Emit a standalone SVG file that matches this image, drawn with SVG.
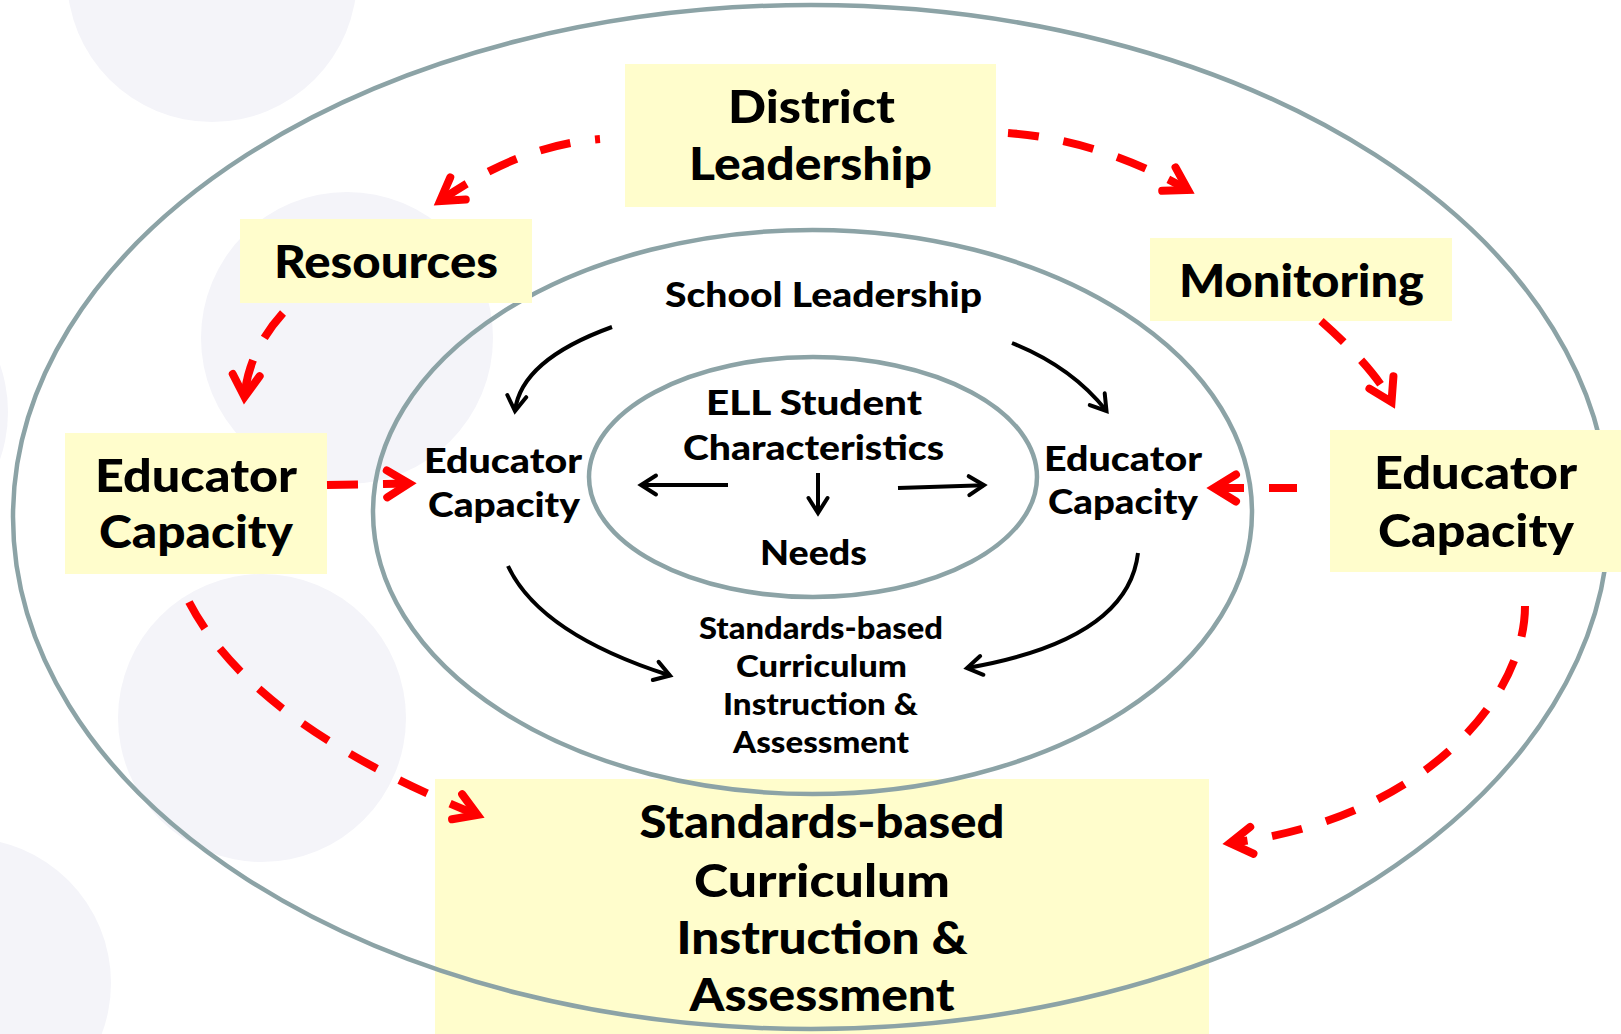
<svg xmlns="http://www.w3.org/2000/svg" width="1621" height="1034" viewBox="0 0 1621 1034">
  <style>
    .bg { fill: #f4f4f9; }
    .ring { fill: none; stroke: #8ca3a6; stroke-width: 4.5; }
    .box { fill: #fffdcc; }
    .t { font-family: Lato, "Open Sans", "DejaVu Sans", sans-serif; font-weight: 900; fill: #000; text-anchor: middle; }
    .big { font-size: 46px; }
    .mid { font-size: 34px; }
    .sm { font-size: 30px; }
    .red { fill: none; stroke: #ff0000; stroke-width: 8; stroke-dasharray: 31 25; marker-end: url(#redHead); }
    .blk { fill: none; stroke: #000; stroke-width: 4; marker-end: url(#blkHead); }
  </style>
  <defs>
    <marker id="redHead" markerUnits="userSpaceOnUse" orient="auto" refX="0" refY="0" markerWidth="40" markerHeight="40" viewBox="-30 -20 40 40" overflow="visible">
      <path d="M -22,-13.5 L 0,0 L -22,13.5" fill="none" stroke="#ff0000" stroke-width="8" stroke-linecap="round" stroke-linejoin="miter"/>
    </marker>
    <marker id="blkHead" markerUnits="userSpaceOnUse" orient="auto" refX="0" refY="0" markerWidth="30" markerHeight="30" viewBox="-20 -15 30 30" overflow="visible">
      <path d="M -15,-9.5 L 0,0 L -15,9.5" fill="none" stroke="#000" stroke-width="4" stroke-linecap="round" stroke-linejoin="miter"/>
    </marker>
  </defs>

  <rect width="1621" height="1034" fill="#ffffff"/>

  <!-- faint decorative discs -->
  <g id="backdrop">
    <circle class="bg" cx="212" cy="-23" r="145"/>
    <circle class="bg" cx="347" cy="338" r="146"/>
    <circle class="bg" cx="262" cy="718" r="144"/>
    <circle class="bg" cx="-34" cy="983" r="145"/>
    <circle class="bg" cx="-137" cy="412" r="145"/>
  </g>

  <!-- outcome box sits beneath the rings -->
  <g id="node-sbc-outer">
    <rect class="box" x="435" y="779" width="774" height="255"/>
    <text class="t big" x="822" y="838" textLength="365" lengthAdjust="spacingAndGlyphs">Standards-based</text>
    <text class="t big" x="822" y="897" textLength="256" lengthAdjust="spacingAndGlyphs">Curriculum</text>
    <text class="t big" x="822" y="954" textLength="291" lengthAdjust="spacingAndGlyphs">Instruction &amp;</text>
    <text class="t big" x="822" y="1011" textLength="265" lengthAdjust="spacingAndGlyphs">Assessment</text>
  </g>

  <!-- concentric rings -->
  <g id="rings">
    <ellipse class="ring" cx="811" cy="517" rx="798" ry="512"/>
    <ellipse class="ring" cx="812.5" cy="512" rx="439.5" ry="282"/>
    <ellipse class="ring" cx="813" cy="477" rx="224" ry="120"/>
  </g>

  <g id="node-district">
    <rect class="box" x="625" y="64" width="371" height="143"/>
    <text class="t big" x="811.5" y="123" textLength="167" lengthAdjust="spacingAndGlyphs">District</text>
    <text class="t big" x="810.5" y="180" textLength="243" lengthAdjust="spacingAndGlyphs">Leadership</text>
  </g>

  <g id="node-resources">
    <rect class="box" x="240" y="219" width="292" height="84"/>
    <text class="t big" x="386" y="278" textLength="224" lengthAdjust="spacingAndGlyphs">Resources</text>
  </g>

  <g id="node-monitoring">
    <rect class="box" x="1150" y="238" width="302" height="83"/>
    <text class="t big" x="1301.5" y="297" textLength="245" lengthAdjust="spacingAndGlyphs">Monitoring</text>
  </g>

  <g id="node-educator-left">
    <rect class="box" x="65" y="433" width="262" height="141"/>
    <text class="t big" x="196" y="492" textLength="202" lengthAdjust="spacingAndGlyphs">Educator</text>
    <text class="t big" x="196" y="548" textLength="194" lengthAdjust="spacingAndGlyphs">Capacity</text>
  </g>

  <g id="node-educator-right">
    <rect class="box" x="1330" y="430" width="291" height="142"/>
    <text class="t big" x="1475.5" y="489" textLength="203" lengthAdjust="spacingAndGlyphs">Educator</text>
    <text class="t big" x="1476" y="547" textLength="196" lengthAdjust="spacingAndGlyphs">Capacity</text>
  </g>

  <g id="node-school-leadership">
    <text class="t mid" x="823.5" y="307" textLength="317" lengthAdjust="spacingAndGlyphs">School Leadership</text>
  </g>

  <g id="node-educator-inner-left">
    <text class="t mid" x="503" y="473" textLength="158" lengthAdjust="spacingAndGlyphs">Educator</text>
    <text class="t mid" x="504" y="517" textLength="152" lengthAdjust="spacingAndGlyphs">Capacity</text>
  </g>

  <g id="node-educator-inner-right">
    <text class="t mid" x="1123" y="471" textLength="158" lengthAdjust="spacingAndGlyphs">Educator</text>
    <text class="t mid" x="1123" y="514" textLength="150" lengthAdjust="spacingAndGlyphs">Capacity</text>
  </g>

  <g id="node-ell">
    <text class="t mid" x="814" y="415" textLength="216" lengthAdjust="spacingAndGlyphs">ELL Student</text>
    <text class="t mid" x="813.5" y="460" textLength="261" lengthAdjust="spacingAndGlyphs">Characteristics</text>
  </g>

  <g id="node-needs">
    <text class="t mid" x="813.5" y="565" textLength="107" lengthAdjust="spacingAndGlyphs">Needs</text>
  </g>

  <g id="node-sbc-inner">
    <text class="t sm" x="821" y="639" textLength="244" lengthAdjust="spacingAndGlyphs">Standards-based</text>
    <text class="t sm" x="821.5" y="677" textLength="171" lengthAdjust="spacingAndGlyphs">Curriculum</text>
    <text class="t sm" x="820.5" y="715" textLength="195" lengthAdjust="spacingAndGlyphs">Instruction &amp;</text>
    <text class="t sm" x="821" y="753" textLength="176" lengthAdjust="spacingAndGlyphs">Assessment</text>
  </g>

  <g id="connectors">
    <!-- district-level flows (dashed red) -->
    <path class="red" d="M 600 139 Q 520 145 440 201" stroke-dashoffset="26"/>
    <path class="red" d="M 1008 133 Q 1100 140 1188 190"/>
    <path class="red" d="M 283 313 Q 248 352 244.5 397"/>
    <path class="red" d="M 1321 321 Q 1374 368 1391.5 402"/>
    <path class="red" d="M 327 485 L 409 483.5"/>
    <path class="red" d="M 1297 488 L 1214 488" stroke-dashoffset="3"/>
    <path class="red" d="M 189 602 Q 252 724 477.5 815"/>
    <path class="red" d="M 1525 606 C 1525 700 1420 820 1230 843"/>

    <!-- school-level flows (solid black) -->
    <path class="blk" d="M 612 327 Q 521 360 515 411"/>
    <path class="blk" d="M 1012 343 Q 1072 367 1106.5 411"/>
    <path class="blk" d="M 508 566 Q 540 634 670 675.5"/>
    <path class="blk" d="M 1138 553 Q 1128 640 967 668"/>
    <path class="blk" d="M 728 485 L 641 485"/>
    <path class="blk" d="M 818 473 L 818 513"/>
    <path class="blk" d="M 898 488 L 984 485.2"/>
  </g>
</svg>
